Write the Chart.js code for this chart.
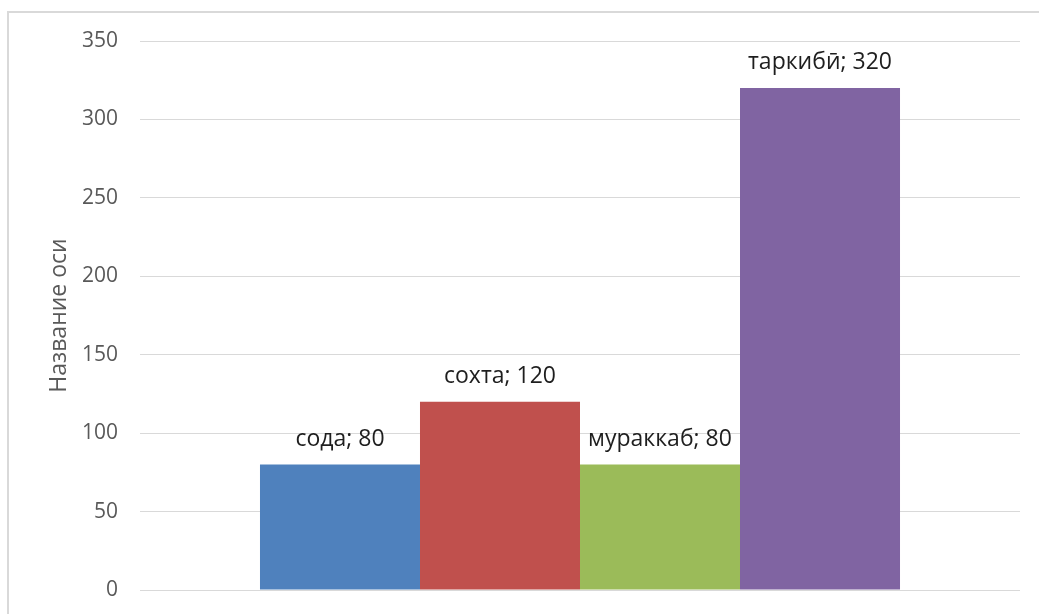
<!DOCTYPE html>
<html>
<head>
<meta charset="utf-8">
<script src="https://cdn.jsdelivr.net/npm/chart.js@4.4.0/dist/chart.umd.min.js"></script>
<style>
  body { margin: 0; background: #fff; overflow: hidden; }
  #wrap { position: relative; width: 1039px; height: 614px; }
  #frame {
    position: absolute; left: 7px; top: 11px; width: 1100px; height: 700px;
    border-top: 2px solid #d9d9d9; border-left: 2px solid #d9d9d9;
    pointer-events: none;
  }
</style>
</head>
<body>
<div id="wrap">
  <canvas id="myChart" width="1039" height="614"></canvas>
  <div id="frame"></div>
</div>
<script>
var categories = [""];
var seriesNames = ["сода", "сохта", "мураккаб", "таркибӣ"];
var seriesValues = [80, 120, 80, 320];
var seriesColors = ["#4F81BD", "#C0504D", "#9BBB59", "#8064A2"];
var axisTitle = "Название оси";

var fontFamily = "'Open Sans', Lato, sans-serif";

var datasets = [];
for (var i = 0; i < seriesNames.length; i++) {
  datasets.push({
    label: seriesNames[i],
    data: [seriesValues[i]],
    backgroundColor: seriesColors[i],
    borderWidth: 0,
    categoryPercentage: 0.7273,
    barPercentage: 1.0,
  });
}

// draws "name; value" above each bar
var barLabels = {
  id: "barLabels",
  afterDatasetsDraw: function (chart) {
    var ctx = chart.ctx;
    ctx.save();
    ctx.font = "23px " + fontFamily;
    ctx.fillStyle = "#1e1e1e";
    ctx.textAlign = "center";
    ctx.textBaseline = "alphabetic";
    chart.data.datasets.forEach(function (ds, i) {
      var bar = chart.getDatasetMeta(i).data[0];
      ctx.fillText(ds.label + "; " + ds.data[0], bar.x, bar.y - 19);
    });
    ctx.restore();
  },
};

var ctx = document.getElementById("myChart").getContext("2d");
var myChart = new Chart(ctx, {
  type: "bar",
  data: {
    labels: categories,
    datasets: datasets,
  },
  options: {
    responsive: false,
    animation: false,
    layout: { padding: { left: 0, top: 41, right: 19, bottom: 24 } },
    plugins: {
      legend: { display: false },
      tooltip: { enabled: false },
    },
    scales: {
      x: { display: false },
      y: {
        min: 0,
        max: 350,
        ticks: {
          stepSize: 50,
          padding: 22,
          color: "#595959",
          font: { family: fontFamily, size: 21 },
        },
        grid: { color: "#d9d9d9", lineWidth: 1, drawTicks: false },
        border: { display: false },
        title: {
          display: true,
          text: axisTitle,
          color: "#595959",
          font: { family: fontFamily, size: 23 },
          padding: { top: 46, bottom: 0 },
        },
        afterFit: function (scale) {
          scale.width = 140;
          scale.paddingTop = 0;
          scale.paddingBottom = 0;
        },
      },
    },
  },
  plugins: [barLabels],
});
</script>
</body>
</html>
